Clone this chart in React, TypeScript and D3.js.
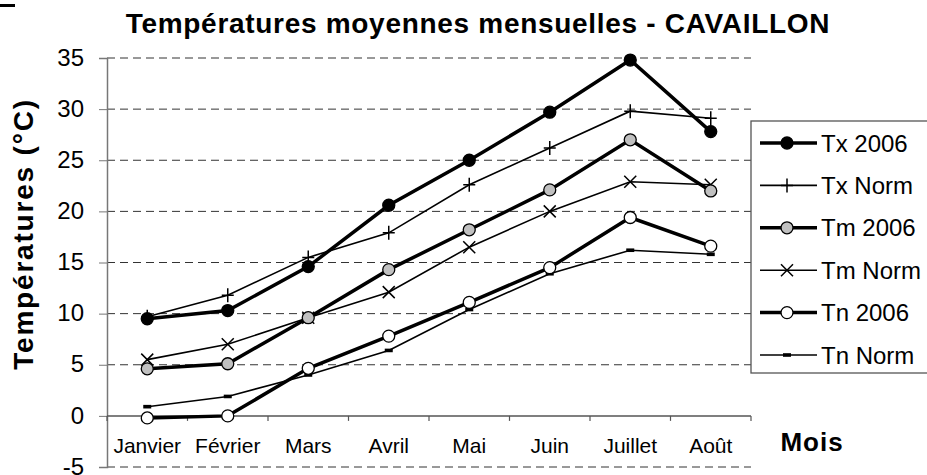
import React, { useEffect, useRef } from 'react';
import * as d3 from 'd3';

const months = ['Janvier', 'Février', 'Mars', 'Avril', 'Mai', 'Juin', 'Juillet', 'Août'];
const yTicks = [-5, 0, 5, 10, 15, 20, 25, 30, 35];

const txSeries = [9.5, 10.3, 14.6, 20.6, 25.0, 29.7, 34.8, 27.8];
const txNorm = [9.7, 11.8, 15.5, 17.9, 22.6, 26.2, 29.8, 29.1];
const tmSeries = [4.6, 5.1, 9.6, 14.3, 18.2, 22.1, 27.0, 22.0];
const tmNorm = [5.5, 7.0, 9.6, 12.1, 16.5, 20.0, 22.9, 22.6];
const tnSeries = [-0.2, 0.0, 4.65, 7.8, 11.1, 14.5, 19.4, 16.6];
const tnNorm = [0.9, 1.9, 4.0, 6.4, 10.4, 13.9, 16.2, 15.8];

const seriesNames = ['Tx 2006', 'Tx Norm', 'Tm 2006', 'Tm Norm', 'Tn 2006', 'Tn Norm'];

const FONT = "'Liberation Sans', Arial, sans-serif";

type Marker = 'dot' | 'plus' | 'cross' | 'dash';

const App = () => {
  const svgRef = useRef<SVGSVGElement>(null);

  useEffect(() => {
    const svg = d3.select(svgRef.current);
    svg.selectAll('*').remove();

    const left = 107, right = 751, top = 58, bottom = 467;

    const x = d3.scaleBand<string>().domain(months).range([left, right]).padding(0);
    const y = d3.scaleLinear().domain([-5, 35]).range([bottom, top]);
    const cx = (m: string) => (x(m) as number) + x.bandwidth() / 2;

    // little black bar at the top-left corner (cropped leftover)
    svg.append('rect').attr('x', 0).attr('y', 4).attr('width', 15).attr('height', 3).attr('fill', '#000');

    // title
    svg.append('text')
      .attr('x', 478).attr('y', 33)
      .attr('text-anchor', 'middle')
      .style('font-family', FONT).style('font-weight', 'bold').style('font-size', '28px')
      .style('letter-spacing', '0.7px')
      .text('Températures moyennes mensuelles - CAVAILLON');

    // dashed grid lines
    svg.append('g').selectAll('line')
      .data(yTicks.filter((t) => t !== 0))
      .enter().append('line')
      .attr('x1', left).attr('x2', right)
      .attr('y1', (d) => y(d)).attr('y2', (d) => y(d))
      .attr('stroke', '#333').attr('stroke-width', 1)
      .attr('stroke-dasharray', '8,5');

    // y axis
    const yAxis = d3.axisLeft(y).tickValues(yTicks).tickSize(8).tickFormat((d) => String(d));
    const gy = svg.append('g').attr('transform', `translate(${left},0)`).call(yAxis);
    gy.select('.domain').attr('stroke', '#777').attr('stroke-width', 1.5);
    gy.selectAll('.tick line').attr('stroke', '#777');
    gy.selectAll('.tick text')
      .attr('x', -23).attr('dy', '0.3em')
      .style('font-family', FONT).style('font-size', '24px').attr('fill', '#000');

    // x axis at 0
    svg.append('line')
      .attr('x1', left).attr('x2', right).attr('y1', y(0)).attr('y2', y(0))
      .attr('stroke', '#555').attr('stroke-width', 1.5);
    const bounds = [...months.map((m) => x(m) as number), right];
    svg.append('g').selectAll('line').data(bounds).enter().append('line')
      .attr('x1', (d) => d).attr('x2', (d) => d)
      .attr('y1', y(0)).attr('y2', y(0) + 5)
      .attr('stroke', '#555').attr('stroke-width', 1.2);
    svg.append('g').selectAll('text').data(months).enter().append('text')
      .attr('x', (d) => cx(d)).attr('y', 453)
      .attr('text-anchor', 'middle')
      .style('font-family', FONT).style('font-size', '21px')
      .text((d) => d);

    // axis titles
    svg.append('text')
      .attr('transform', 'translate(33,234) rotate(-90)')
      .attr('text-anchor', 'middle')
      .style('font-family', FONT).style('font-weight', 'bold').style('font-size', '28px')
      .style('letter-spacing', '1.8px')
      .text('Températures (°C)');
    svg.append('text')
      .attr('x', 812).attr('y', 451)
      .attr('text-anchor', 'middle')
      .style('font-family', FONT).style('font-weight', 'bold').style('font-size', '26px')
      .style('letter-spacing', '1px')
      .text('Mois');

    const series: { name: string; values: number[]; width: number; marker: Marker; fill: string }[] = [
      { name: seriesNames[5], values: tnNorm, width: 1.6, marker: 'dash', fill: '#000' },
      { name: seriesNames[3], values: tmNorm, width: 1.6, marker: 'cross', fill: '#000' },
      { name: seriesNames[1], values: txNorm, width: 1.6, marker: 'plus', fill: '#000' },
      { name: seriesNames[4], values: tnSeries, width: 3.5, marker: 'dot', fill: '#fff' },
      { name: seriesNames[2], values: tmSeries, width: 3.5, marker: 'dot', fill: '#c0c0c0' },
      { name: seriesNames[0], values: txSeries, width: 3.5, marker: 'dot', fill: '#000' },
    ];

    const drawMarker = (g: any, px: number, py: number, s: (typeof series)[number]) => {
      if (s.marker === 'dot') {
        g.append('circle').attr('cx', px).attr('cy', py).attr('r', 6)
          .attr('fill', s.fill).attr('stroke', '#000').attr('stroke-width', 1.3);
      } else if (s.marker === 'plus') {
        g.append('path').attr('d', `M${px - 6},${py}H${px + 6}M${px},${py - 7}V${py + 7}`)
          .attr('stroke', '#000').attr('stroke-width', 1.5).attr('fill', 'none');
      } else if (s.marker === 'cross') {
        g.append('path').attr('d', `M${px - 6},${py - 6}L${px + 6},${py + 6}M${px - 6},${py + 6}L${px + 6},${py - 6}`)
          .attr('stroke', '#000').attr('stroke-width', 1.5).attr('fill', 'none');
      } else {
        g.append('rect').attr('x', px - 4).attr('y', py - 1.8).attr('width', 8).attr('height', 3.6).attr('fill', '#000');
      }
    };

    const line = d3.line<number>().x((_, i) => cx(months[i])).y((d) => y(d));

    series.forEach((s) => {
      const g = svg.append('g');
      g.append('path').attr('d', line(s.values) as string)
        .attr('fill', 'none').attr('stroke', '#000').attr('stroke-width', s.width)
        .attr('stroke-linejoin', 'miter');
      s.values.forEach((v, i) => drawMarker(g, cx(months[i]), y(v), s));
    });

    // legend
    const lg = svg.append('g');
    lg.append('rect').attr('x', 751).attr('y', 121).attr('width', 220).attr('height', 252)
      .attr('fill', '#fff').attr('stroke', '#555').attr('stroke-width', 1.3);
    const legendOrder = [5, 2, 4, 1, 3, 0];
    legendOrder.forEach((idx, i) => {
      const s = series[idx];
      const ly = 143 + i * 42.4;
      lg.append('line').attr('x1', 760).attr('x2', 817).attr('y1', ly).attr('y2', ly)
        .attr('stroke', '#000').attr('stroke-width', s.width);
      drawMarker(lg, 787, ly, s);
      lg.append('text').attr('x', 821).attr('y', ly + 8.5)
        .style('font-family', FONT).style('font-size', '24px')
        .text(s.name);
    });
  }, []);

  return (
    <svg ref={svgRef} width={927} height={475}
      style={{ position: 'absolute', left: 0, top: 0, background: '#fff' }} />
  );
};

export default App;
